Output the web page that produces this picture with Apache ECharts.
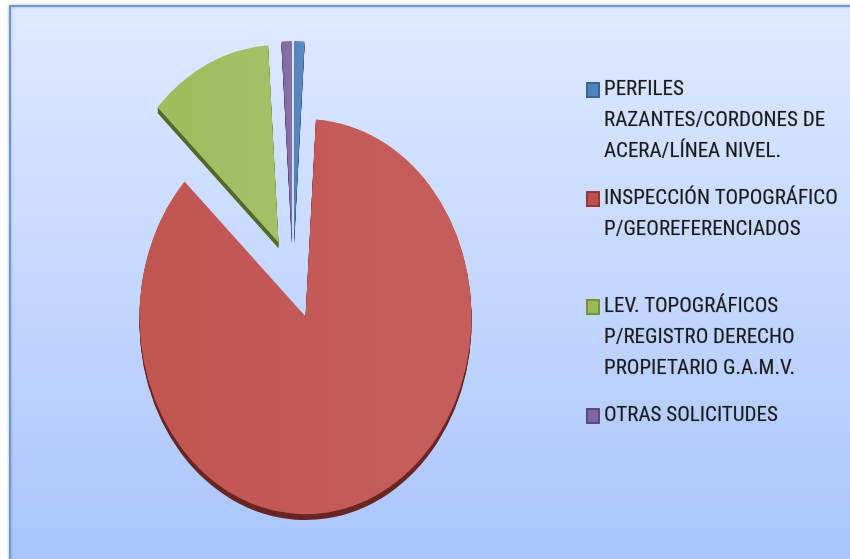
<!DOCTYPE html>
<html>
<head>
<meta charset="utf-8">
<script src="https://cdn.jsdelivr.net/npm/echarts@6/dist/echarts.min.js"></script>
<style>
  html, body { margin: 0; padding: 0; background: #fff; }
  #main { width: 850px; height: 559px; }
</style>
</head>
<body>
<div id="main"></div>
<script>
// datos
const categories = [
  'PERFILES RAZANTES/CORDONES DE ACERA/LÍNEA NIVEL.',
  'INSPECCIÓN TOPOGRÁFICO P/GEOREFERENCIADOS',
  'LEV. TOPOGRÁFICOS P/REGISTRO DERECHO PROPIETARIO G.A.M.V.',
  'OTRAS SOLICITUDES'
];
const legendLines = [
  ['PERFILES', 'RAZANTES/CORDONES DE', 'ACERA/LÍNEA NIVEL.'],
  ['INSPECCIÓN TOPOGRÁFICO', 'P/GEOREFERENCIADOS'],
  ['LEV. TOPOGRÁFICOS', 'P/REGISTRO DERECHO', 'PROPIETARIO G.A.M.V.'],
  ['OTRAS SOLICITUDES']
];
const values = [3, 258, 36, 3];

const colors = ['#4f81bd', '#c0504d', '#9bbb59', '#8064a2'];
const sideColors = ['#2d4f78', '#6a2624', '#55682b', '#4b3a62'];
const borderColors = ['#3a6294', '#933a37', '#76903f', '#5f4a7b'];

// pastel "3D" estirado verticalmente como en Excel
const CX = 293, CY = 279, R = 166, STRETCH = 1.19, EXPLODE = 34, DEPTH = 5;
const total = values.reduce((a, b) => a + b, 0);

function sliceRenderer(i) {
  return function (params, api) {
    let before = 0;
    for (let k = 0; k < i; k++) before += values[k];
    const a0 = -Math.PI / 2 + before / total * Math.PI * 2;
    const a1 = a0 + api.value(0) / total * Math.PI * 2;
    const mid = (a0 + a1) / 2;
    const ox = EXPLODE * Math.cos(mid);
    const oy = EXPLODE * Math.sin(mid);
    const children = [];
    for (let d = DEPTH; d > 0; d--) {
      children.push({
        type: 'sector',
        shape: { cx: ox, cy: oy + d, r: R, startAngle: a0, endAngle: a1 },
        style: { fill: sideColors[i] }
      });
    }
    children.push({
      type: 'sector',
      shape: { cx: ox, cy: oy, r: R, startAngle: a0, endAngle: a1 },
      style: {
        fill: new echarts.graphic.LinearGradient(0, 0, 1, 0, [
          { offset: 0, color: echarts.color.lift(colors[i], 0.03) },
          { offset: 1, color: echarts.color.lift(colors[i], 0.08) }
        ])
      }
    });
    return { type: 'group', x: CX, y: CY, scaleY: STRETCH, children: children };
  };
}

// posicion vertical del centro del icono de cada leyenda
const legendCenters = [90, 199, 307, 416];
const LH = 31;

var myChart = echarts.init(document.getElementById('main'));

var option = {
  backgroundColor: '#ffffff',
  animation: false,
  color: colors,
  graphic: [
    {
      type: 'rect',
      z: 0,
      shape: { x: 10, y: 6, width: 900, height: 620 },
      style: {
        fill: new echarts.graphic.LinearGradient(0, 0, 0, 1, [
          { offset: 0, color: '#dfe9ff' },
          { offset: 1, color: '#a3c1fb' }
        ]),
        stroke: '#6e97d6',
        lineWidth: 2,
        shadowBlur: 3,
        shadowColor: 'rgba(0,0,0,0.25)'
      }
    }
  ],
  legend: categories.map(function (name, i) {
    const n = legendLines[i].length;
    return {
      orient: 'vertical',
      left: 586,
      top: legendCenters[i] - (2 * n - 1) * LH / 2,
      padding: 0,
      data: [name],
      selectedMode: false,
      icon: 'rect',
      itemWidth: 12,
      itemHeight: 14,
      formatter: function () {
        return '\n'.repeat(n - 1) + legendLines[i].join('\n');
      },
      textStyle: {
        fontFamily: "'Roboto Condensed', 'Liberation Sans', sans-serif",
        fontSize: 21,
        lineHeight: LH,
        color: '#1a1a1a',
        textBorderColor: 'rgba(30,30,30,0.25)',
        textBorderWidth: 0.6
      }
    };
  }),
  series: categories.map(function (name, i) {
    return {
      type: 'custom',
      name: name,
      coordinateSystem: 'none',
      itemStyle: { color: colors[i], borderColor: borderColors[i], borderWidth: 1 },
      renderItem: sliceRenderer(i),
      data: [values[i]]
    };
  })
};

myChart.setOption(option);
</script>
</body>
</html>
